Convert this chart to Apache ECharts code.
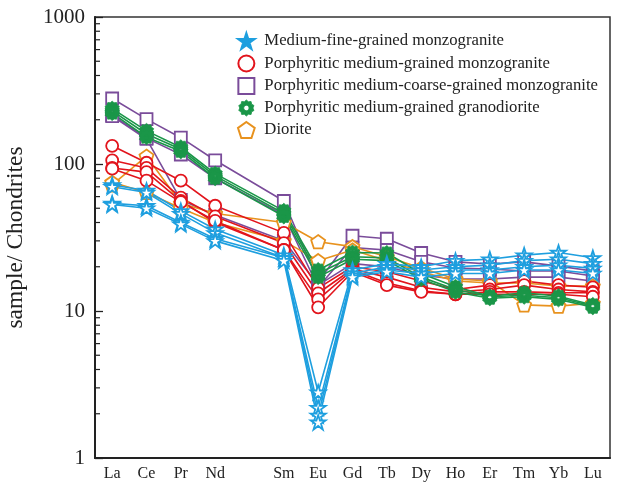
<!DOCTYPE html>
<html>
<head>
<meta charset="utf-8">
<title>REE chondrite-normalized patterns</title>
<script src="https://cdn.jsdelivr.net/npm/echarts@6/dist/echarts.min.js"></script>
<style>
  html, body { margin: 0; padding: 0; background: #fff; }
  #chart { width: 633px; height: 484px; }
</style>
</head>
<body>
<div id="chart"></div>
<script>
// Rare earth elements along the x axis (Pm left blank as a gap)
const elements = ['La', 'Ce', 'Pr', 'Nd', '', 'Sm', 'Eu', 'Gd', 'Tb', 'Dy', 'Ho', 'Er', 'Tm', 'Yb', 'Lu'];
const yTickLabels = ['1', '10', '100', '1000'];
const minorTickValues = [2, 3, 4, 5, 6, 7, 8, 9, 20, 30, 40, 50, 60, 70, 80, 90, 200, 300, 400, 500, 600, 700, 800, 900];

const groupNames = [
  'Medium-fine-grained monzogranite',
  'Porphyritic medium-grained monzogranite',
  'Porphyritic medium-coarse-grained monzogranite',
  'Porphyritic medium-grained granodiorite',
  'Diorite'
];

// Chondrite-normalized values, order: La Ce Pr Nd Sm Eu Gd Tb Dy Ho Er Tm Yb Lu
const mediumFine = [
  [72, 66, 48, 36, 24, 2.8, 19, 21, 20, 22, 22.5, 24, 25, 23],
  [70, 64, 46, 34, 23, 2.2, 18, 20, 19, 20, 20.5, 22, 22.5, 21],
  [54, 52, 40, 31, 23, 1.95, 17.5, 19, 18, 19, 19, 20, 20.5, 19.5],
  [53, 50, 39, 30, 22, 1.75, 17, 18.5, 17, 18, 18, 19, 19, 18]
];
const porphMediumMonzo = [
  [133, 102, 77, 52, 34, 14.3, 20, 18.5, 16, 14, 15, 16, 15, 14.5],
  [106, 94, 59, 44, 29, 13.2, 19.3, 17, 14.5, 13.5, 14, 15, 14, 13.5],
  [94, 88, 56, 40, 26, 12, 19, 15.5, 13.7, 13, 13.5, 13.5, 13.3, 13.3],
  [93, 77, 55, 41, 26, 10.6, 18.5, 15, 13.5, 13, 13, 13, 13, 12.5]
];
const porphCoarseMonzo = [
  [279, 202, 151, 106, 56, 15.8, 32.5, 31, 24.8, 21.6, 20.9, 21.6, 20.2, 18.7],
  [215, 150, 116, 80, 45, 14.5, 27, 26, 21.6, 19.6, 19.3, 18.7, 18.7, 17.3],
  [212, 148, 57, 45, 30, 15, 21, 20, 17.5, 16.5, 16.5, 17, 17, 16]
];
const granodiorite = [
  [238, 168, 130, 86, 48, 19, 25, 24.8, 18, 14.6, 12.6, 13.3, 12.6, 11],
  [230, 160, 126, 83, 46, 18, 23.4, 23, 17, 14, 12.5, 12.8, 12.3, 10.8],
  [222, 152, 122, 80, 44, 17, 22.5, 22, 16.5, 13.5, 12.2, 12.5, 12, 10.6]
];
const diorite = [
  [72, 113, 54, 46, 40, 29.6, 27.4, 23.4, 19.6, 16.5, 16, 11, 10.8, 11.3],
  [75, 64, 50, 40, 30, 22, 26, 22, 18.5, 16, 15.5, 15.5, 14.8, 14.8]
];

const groupData = [mediumFine, porphMediumMonzo, porphCoarseMonzo, granodiorite, diorite];
const groupColors = ['#1e9fdf', '#e2141c', '#7a4c9a', '#1a9648', '#e8921e'];

// Marker shapes
const starPath = 'path://M50,2 L61,36 L97,36 L68,57 L79,92 L50,70 L21,92 L32,57 L3,36 L39,36 Z';
const starDotPath = starPath + ' M50,44 L44,50 L50,56 L56,50 Z';
const pentagonPath = 'path://M50,4 L96,37 L78,92 L22,92 L4,37 Z';
const circlePath = 'path://M50,0 A50,50 0 1,1 50,100 A50,50 0 1,1 50,0 Z';
const squarePath = 'path://M0,0 L100,0 L100,100 L0,100 Z';
function gearPath() {
  const pts = [];
  const n = 10;
  for (let i = 0; i < n * 2; i++) {
    const a = (Math.PI * i) / n - Math.PI / 2;
    const r = i % 2 === 0 ? 50 : 41;
    pts.push((50 + r * Math.cos(a)).toFixed(2) + ',' + (50 + r * Math.sin(a)).toFixed(2));
  }
  let d = 'M' + pts.join(' L') + ' Z';
  // inner hole, drawn in the opposite direction
  const hole = [];
  for (let i = 0; i < 12; i++) {
    const a = -(Math.PI * 2 * i) / 12;
    hole.push((50 + 17 * Math.cos(a)).toFixed(2) + ',' + (50 + 17 * Math.sin(a)).toFixed(2));
  }
  d += ' M' + hole.join(' L') + ' Z';
  return 'path://' + d;
}
const gear = gearPath();
const symbols = [starPath, 'circle', 'rect', gear, pentagonPath];
const symbolSizes = [15, 12, 12, 15, 14];
const fills = ['#ffffff', '#ffffff', '#ffffff', '#1a9648', '#ffffff'];
const borderWidths = [1.8, 1.8, 1.8, 0.8, 1.8];

const legendIcons = [starDotPath, circlePath, squarePath, gear, pentagonPath];
const legendFills = ['#1e9fdf', '#ffffff', '#ffffff', '#1a9648', '#ffffff'];

function toSeriesData(vals) {
  // insert the Pm gap
  return [vals[0], vals[1], vals[2], vals[3], null].concat(vals.slice(4));
}

const series = [];
const drawOrder = [2, 4, 1, 3, 0];
drawOrder.forEach(function (g) {
  groupData[g].forEach(function (sample) {
    series.push({
      type: 'line',
      name: groupNames[g],
      data: toSeriesData(sample),
      connectNulls: true,
      symbol: symbols[g],
      symbolSize: symbolSizes[g],
      symbolKeepAspect: true,
      showAllSymbol: true,
      lineStyle: { color: groupColors[g], width: 1.6 },
      itemStyle: { color: fills[g], borderColor: groupColors[g], borderWidth: borderWidths[g] },
      emphasis: { disabled: true },
      z: 3
    });
  });
});

// Logarithmic minor ticks on the left axis
series.push({
  type: 'custom',
  silent: true,
  clip: false,
  z: 10,
  data: minorTickValues.map(function (v) { return [0, v]; }),
  renderItem: function (params, api) {
    const cs = params.coordSys;
    const y = api.coord([0, api.value(1)])[1];
    return {
      type: 'line',
      shape: { x1: cs.x, y1: y, x2: cs.x + 5, y2: y },
      style: { stroke: '#222', lineWidth: 1.2 }
    };
  }
});

const serif = '"Liberation Serif", "Times New Roman", "DejaVu Serif", serif';

const chart = echarts.init(document.getElementById('chart'), null, { renderer: 'canvas' });
chart.setOption({
  animation: false,
  backgroundColor: '#ffffff',
  grid: {
    left: 95, right: 23, top: 17, bottom: 26,
    show: true, borderColor: '#333', borderWidth: 1.5,
    containLabel: false,
    outerBoundsMode: 'none'
  },
  legend: {
    orient: 'vertical',
    left: 232,
    top: 27,
    itemGap: 4.5,
    itemWidth: 26,
    itemHeight: 16,
    symbolKeepAspect: true,
    selectedMode: false,
    textStyle: { fontFamily: serif, fontSize: 16.7, color: '#222' },
    data: groupNames.map(function (n, i) {
      return {
        name: n,
        icon: legendIcons[i],
        itemStyle: { color: legendFills[i], borderColor: groupColors[i], borderWidth: i === 3 ? 0.8 : 2 }
      };
    })
  },
  xAxis: {
    type: 'category',
    data: elements,
    boundaryGap: true,
    axisLine: { lineStyle: { color: '#222', width: 2 } },
    axisTick: { alignWithLabel: true, inside: true, length: 5, interval: 0, lineStyle: { color: '#222', width: 1.3 } },
    axisLabel: { interval: 0, margin: 8, fontFamily: serif, fontSize: 16, color: '#222' },
    splitLine: { show: false }
  },
  yAxis: {
    type: 'log',
    logBase: 10,
    min: 1,
    max: 1000,
    name: 'sample/ Chondrites',
    nameLocation: 'middle',
    nameGap: 67,
    nameRotate: 90,
    nameTextStyle: { fontFamily: serif, fontSize: 23.5, color: '#222' },
    axisLine: { show: true, lineStyle: { color: '#222', width: 2 } },
    axisTick: { show: true, inside: true, length: 8, lineStyle: { color: '#222', width: 1.3 } },
    axisLabel: {
      margin: 10, fontFamily: serif, fontSize: 21, color: '#222',
      formatter: function (v) {
        const s = String(Math.round(v));
        return yTickLabels.indexOf(s) >= 0 ? s : '';
      }
    },
    splitLine: { show: false }
  },
  series: series
});
</script>
</body>
</html>
